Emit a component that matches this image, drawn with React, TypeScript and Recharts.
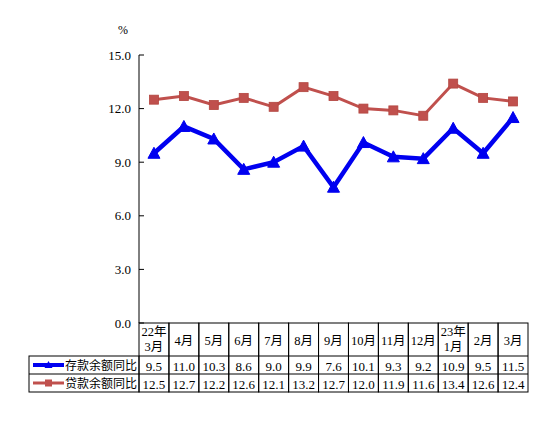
import React from 'react';
import { LineChart, Line, XAxis, YAxis } from 'recharts';

const categories = ['22年\n3月', '4月', '5月', '6月', '7月', '8月', '9月', '10月', '11月', '12月', '23年\n1月', '2月', '3月'];
const depositValues = [9.5, 11.0, 10.3, 8.6, 9.0, 9.9, 7.6, 10.1, 9.3, 9.2, 10.9, 9.5, 11.5];
const loanValues = [12.5, 12.7, 12.2, 12.6, 12.1, 13.2, 12.7, 12.0, 11.9, 11.6, 13.4, 12.6, 12.4];
const yTicks = [0, 3, 6, 9, 12, 15];
const seriesNames = ['存款余额同比', '贷款余额同比'];
const unitLabel = '%';

const data = categories.map((c, i) => ({ cat: c, deposit: depositValues[i], loan: loanValues[i] }));

const W = 554;
const H = 443;
const M = { top: 55, right: 26, bottom: 50, left: 0 };
const Y_W = 139;
const X_H = 70;
const PLOT_W = W - M.left - M.right - Y_W;
const BW = PLOT_W / categories.length;
const HEADER_H = 33;
const ROW_H = 18;
const LEGEND_X = 29;
const BLUE = '#0000F0';
const RED = '#C0504D';
const NUM_FONT = 'Liberation Serif, serif';
const CJK_FONT = 'Liberation Serif, Noto Sans CJK SC, serif';

const Triangle = ({ cx, cy }: { cx: number; cy: number }) => (
  <polygon points={`${cx},${cy - 6} ${cx - 6},${cy + 5} ${cx + 6},${cy + 5}`} fill={BLUE} stroke={BLUE} strokeWidth={1} />
);
const Square = ({ cx, cy }: { cx: number; cy: number }) => (
  <rect x={cx - 4.5} y={cy - 4.5} width={9} height={9} fill={RED} stroke="#B2453F" strokeWidth={0.8} />
);

const XTick = (props: any) => {
  const { x, y, payload } = props;
  const i = payload.index;
  const left = x - BW / 2;
  const lines = String(payload.value).split('\n');
  const total = HEADER_H + 2 * ROW_H;
  return (
    <g>
      <rect x={left} y={y} width={BW} height={total} fill="none" stroke="#000" strokeWidth={1} />
      <line x1={left} y1={y + HEADER_H} x2={left + BW} y2={y + HEADER_H} stroke="#000" />
      <line x1={left} y1={y + HEADER_H + ROW_H} x2={left + BW} y2={y + HEADER_H + ROW_H} stroke="#000" />
      {lines.length === 1 ? (
        <text x={x} y={y + HEADER_H / 2 + 1} textAnchor="middle" dominantBaseline="central" fontSize={12.5} fill="#000" style={{ fontFamily: CJK_FONT }}>{lines[0]}</text>
      ) : (
        lines.map((l, k) => (
          <text key={k} x={x} y={y + 9 + k * 15} textAnchor="middle" dominantBaseline="central" fontSize={12.5} fill="#000" style={{ fontFamily: CJK_FONT }}>{l}</text>
        ))
      )}
      <text x={x} y={y + HEADER_H + ROW_H / 2 + 1} textAnchor="middle" dominantBaseline="central" fontSize={13} fill="#000" style={{ fontFamily: NUM_FONT }}>{depositValues[i].toFixed(1)}</text>
      <text x={x} y={y + HEADER_H + ROW_H * 1.5 + 1} textAnchor="middle" dominantBaseline="central" fontSize={13} fill="#000" style={{ fontFamily: NUM_FONT }}>{loanValues[i].toFixed(1)}</text>
      {i === 0 && (
        <g>
          <rect x={LEGEND_X} y={y + HEADER_H} width={left - LEGEND_X} height={2 * ROW_H} fill="none" stroke="#000" />
          <line x1={LEGEND_X} y1={y + HEADER_H + ROW_H} x2={left} y2={y + HEADER_H + ROW_H} stroke="#000" />
          <line x1={LEGEND_X + 4} y1={y + HEADER_H + ROW_H / 2} x2={LEGEND_X + 35} y2={y + HEADER_H + ROW_H / 2} stroke={BLUE} strokeWidth={4} />
          <polygon
            points={`${LEGEND_X + 19.5},${y + HEADER_H + ROW_H / 2 - 4} ${LEGEND_X + 15.5},${y + HEADER_H + ROW_H / 2 + 3} ${LEGEND_X + 23.5},${y + HEADER_H + ROW_H / 2 + 3}`}
            fill={BLUE}
          />
          <line x1={LEGEND_X + 4} y1={y + HEADER_H + ROW_H * 1.5} x2={LEGEND_X + 35} y2={y + HEADER_H + ROW_H * 1.5} stroke={RED} strokeWidth={3} />
          <rect x={LEGEND_X + 16} y={y + HEADER_H + ROW_H * 1.5 - 3.5} width={7} height={7} fill={RED} />
          <text x={left - 2} y={y + HEADER_H + ROW_H / 2 + 1} textAnchor="end" dominantBaseline="central" fontSize={12} fill="#000" style={{ fontFamily: CJK_FONT }}>{seriesNames[0]}</text>
          <text x={left - 2} y={y + HEADER_H + ROW_H * 1.5 + 1} textAnchor="end" dominantBaseline="central" fontSize={12} fill="#000" style={{ fontFamily: CJK_FONT }}>{seriesNames[1]}</text>
        </g>
      )}
    </g>
  );
};

const YTick = (props: any) => {
  const { x, y, payload } = props;
  return (
    <g>
      <line x1={x} y1={y} x2={x + 5} y2={y} stroke="#000" strokeWidth={1} />
      <text x={x - 8} y={y} textAnchor="end" dominantBaseline="central" fontSize={13} fill="#000" style={{ fontFamily: NUM_FONT }}>
        {Number(payload.value).toFixed(1)}
      </text>
    </g>
  );
};

export default function App() {
  return (
    <div style={{ position: 'absolute', left: 0, top: 0, width: W, height: H, background: '#fff' }}>
      <LineChart width={W} height={H} data={data} margin={M}>
        <XAxis
          dataKey="cat"
          height={X_H}
          interval={0}
          padding={{ left: BW / 2, right: BW / 2 }}
          axisLine={false}
          tickLine={false}
          tickSize={0}
          tickMargin={0}
          tick={<XTick />}
        />
        <YAxis
          width={Y_W}
          domain={[0, 15]}
          ticks={yTicks}
          interval={0}
          axisLine={{ stroke: '#000', strokeWidth: 1 }}
          tickLine={false}
          tickSize={0}
          tickMargin={0}
          tick={<YTick />}
          label={{
            content: () => (
              <text x={123} y={30} textAnchor="middle" dominantBaseline="central" fontSize={12} fill="#000" style={{ fontFamily: NUM_FONT }}>
                {unitLabel}
              </text>
            ),
          }}
        />
        <Line
          dataKey="loan"
          stroke={RED}
          strokeWidth={3}
          isAnimationActive={false}
          dot={(p: any) => <Square key={`l${p.index}`} cx={p.cx} cy={p.cy} />}
        />
        <Line
          dataKey="deposit"
          stroke={BLUE}
          strokeWidth={4.5}
          isAnimationActive={false}
          dot={(p: any) => <Triangle key={`d${p.index}`} cx={p.cx} cy={p.cy} />}
        />
      </LineChart>
    </div>
  );
}
